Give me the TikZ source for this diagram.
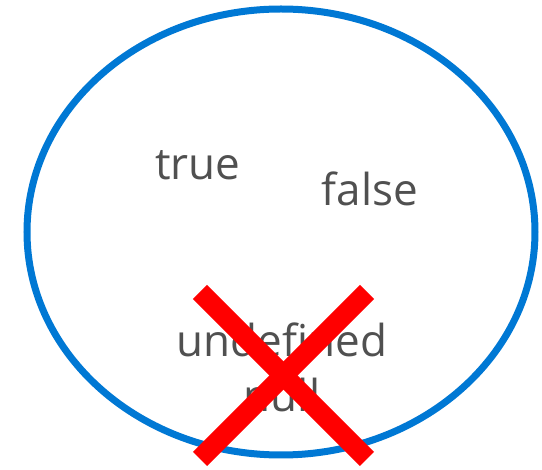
\documentclass[tikz,border=0pt]{standalone}
\usepackage{fontspec}
\setmainfont{Open Sans}
\definecolor{ringblue}{HTML}{0078D4}
\definecolor{txtgray}{HTML}{505050}
\definecolor{crossred}{HTML}{FF0000}
\begin{document}
\begin{tikzpicture}[x=1pt,y=-1pt,
  lbl/.style={anchor=base,text=txtgray,inner sep=0pt,font=\fontsize{44}{54}\selectfont},
  ring/.style={draw=ringblue,line width=7pt},
  cross/.style={draw=crossred,line width=20pt,line cap=butt}]
\useasboundingbox (0,0) rectangle (542,470);
\fill[white] (0,0) rectangle (542,470);
\draw[ring] (281,232) ellipse [x radius=254, y radius=223];
\node[lbl] (t) at (198,180) {true};
\node[lbl] (f) at (370,206) {false};
\node[lbl] (u) at (282,357) {undefined};
\node[lbl] (n) at (282,412) {null};
\coordinate (a1) at (200,292);
\coordinate (a2) at (367,459);
\coordinate (b1) at (367,292);
\coordinate (b2) at (200,459);
\draw[cross] (a1) -- (a2);
\draw[cross] (b1) -- (b2);
\end{tikzpicture}
\end{document}
